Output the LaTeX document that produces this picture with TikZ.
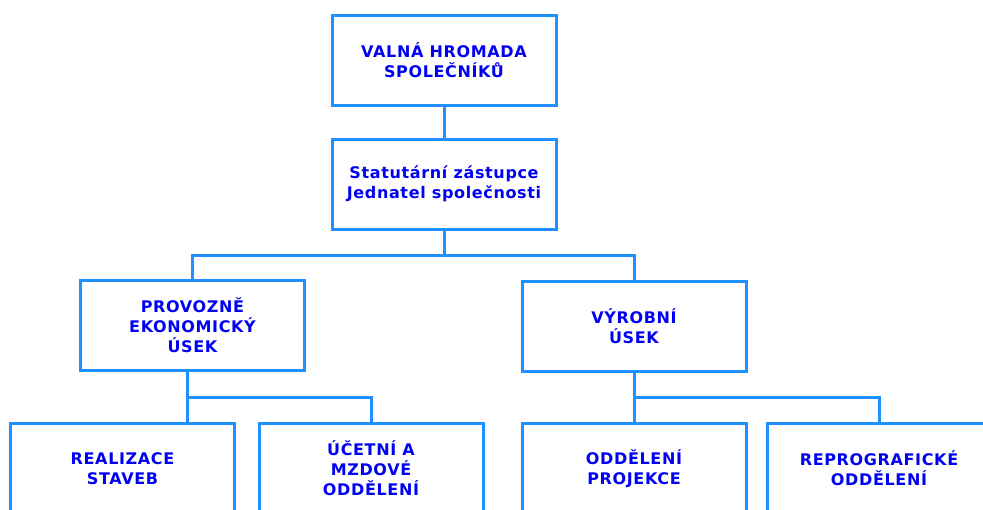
\documentclass[tikz,border=0pt]{standalone}
\usepackage{fontspec}
\newfontfamily\orgfont[LetterSpace=4]{DejaVu Sans}
\usetikzlibrary{positioning}
\definecolor{boxblue}{RGB}{30,144,255}
\definecolor{textblue}{RGB}{0,0,245}

\begin{document}
\begin{tikzpicture}[x=1pt, y=-1pt,
  unit/.style={draw=boxblue, line width=3pt, minimum width=224pt, minimum height=90pt,
    align=center, text=textblue, font=\orgfont\bfseries\fontsize{16}{20}\selectfont},
  link/.style={draw=boxblue, line width=3pt}]
\useasboundingbox (0,0) rectangle (983,509);
\clip (0,0) rectangle (983,509);

\node[unit] (hromada) at (444,60) {VALNÁ HROMADA\\SPOLEČNÍKŮ};
\node[unit] (jednatel) at (444,184) {Statutární zástupce\\Jednatel společnosti};
\node[unit] (ekon) at (192.5,325.5) {PROVOZNĚ\\EKONOMICKÝ\\ÚSEK};
\node[unit] (vyroba) at (634,326) {VÝROBNÍ\\ÚSEK};
\node[unit] (stavby) at (122.5,468.5) {REALIZACE\\STAVEB};
\node[unit] (ucetni) at (371,468.5) {ÚČETNÍ A\\MZDOVÉ\\ODDĚLENÍ};
\node[unit] (projekce) at (634,468.5) {ODDĚLENÍ\\PROJEKCE};
\node[unit] (repro) at (879,468.5) {REPROGRAFICKÉ\\ODDĚLENÍ};

\coordinate (bus1) at (444,255);
\coordinate (bus2) at (187,397);
\coordinate (bus3) at (634,397);

\draw[link] (hromada) -- (jednatel);
\draw[link] (jednatel) -- (bus1);
\draw[link] (ekon.north) |- (bus1) -| (vyroba.north);

\draw[link] (ekon.south -| bus2) -- (bus2 |- stavby.north);
\draw[link] (bus2) -| (ucetni.north);

\draw[link] (vyroba) -- (projekce);
\draw[link] (bus3) -| (repro.north);
\end{tikzpicture}
\end{document}
